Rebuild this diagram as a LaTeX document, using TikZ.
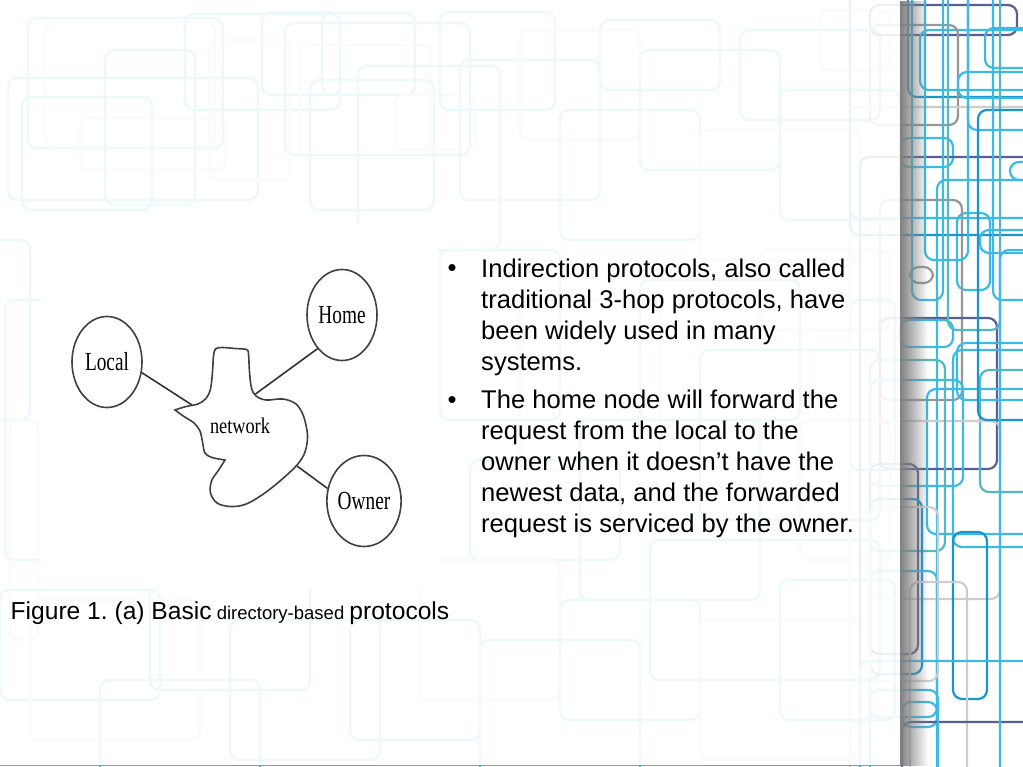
\documentclass[tikz,border=0pt]{standalone}
\usepackage{fontspec}
\setmainfont{Liberation Sans}
\newfontfamily\figfont{Liberation Serif}
\usepackage{graphicx}
\usetikzlibrary{shapes.geometric}
\usetikzlibrary{fadings}
\frenchspacing
\definecolor{sky}{RGB}{58,186,228}
\definecolor{skydeep}{RGB}{24,150,205}
\definecolor{slate}{RGB}{88,96,146}
\definecolor{tealline}{RGB}{84,184,190}
\definecolor{greylight}{RGB}{205,205,205}
\definecolor{greydark}{RGB}{150,150,155}
\newcommand{\tallfig}[1]{\scalebox{1}[1.35]{#1}}
\tikzfading[name=shadowfade, left color=transparent!0, right color=transparent!100]
\tikzset{
  bgline/.style={draw=#1, line width=2.2pt, rounded corners=9pt},
  peer/.style={ellipse, draw=black!75, line width=1.6pt, minimum width=70pt,
    minimum height=91pt, inner sep=0pt, font=\figfont\fontsize{19.3}{20}\selectfont},
  link/.style={draw=black!80, line width=1.6pt},
  netline/.style={draw=black!75, line width=1.6pt, fill=white},
  bullettext/.style={align=left, inner sep=0pt, anchor=north west,
    font=\fontsize{25.6}{31}\selectfont},
  bulletmark/.style={inner sep=0pt, anchor=base, font=\fontsize{25.6}{31}\selectfont}
}
\begin{document}
\begin{tikzpicture}[x=1pt,y=-1pt]
\useasboundingbox (0,0) rectangle (1023,767);
\clip (0,0) rectangle (1023,767);
\fill[white] (0,0) rectangle (1023,767);
% background pattern, page part
\foreach \xa/\ya/\xb/\yb/\col in {28/18/223/148/sky, 45/22/215/147/greylight, 8/78/258/200/sky,
  22/97/152/210/sky, 80/118/226/170/greylight, 105/50/195/205/sky, 185/14/340/110/sky,
  210/40/290/180/greylight, 262/12/340/95/sky, 285/23/470/155/sky, 300/45/430/158/greylight,
  322/13/415/95/sky, 310/80/434/210/sky, 358/66/500/250/sky, 395/95/475/150/greylight,
  440/12/555/110/sky, 460/60/600/200/sky, 520/30/640/140/greylight, 560/110/700/240/sky,
  600/20/720/90/sky, 640/50/780/170/sky, 700/130/860/260/greylight, 740/30/880/120/sky,
  780/90/900/220/sky, 820/10/890/70/greylight, -20/240/30/420/sky, 5/300/60/560/sky,
  10/420/38/640/greylight, 440/250/560/420/sky, 520/300/660/470/greylight, 640/280/800/420/sky,
  700/350/880/520/sky, 760/250/890/330/greylight, 470/460/620/560/sky, 580/420/760/600/sky,
  800/420/890/560/greylight, 850/300/895/470/sky, 0/590/160/700/sky, 30/600/200/740/greylight,
  150/580/310/690/sky, 230/620/380/760/sky, 350/620/480/740/sky, 420/560/560/700/greylight,
  480/640/640/790/sky, 560/600/700/720/sky, 650/540/880/680/sky, 700/620/860/760/greylight,
  780/580/895/720/sky, 100/680/260/790/sky}
  \draw[bgline=\col] (\xa,\ya) rectangle (\xb,\yb);
% background pattern, right strip
\foreach \xa/\ya/\xb/\yb/\col in {870/5/1017/35/slate, 908/-20/1040/97/skydeep, 920/30/1040/90/sky,
  870/25/958/125/greydark, 985/28/1040/68/sky, 958/72/1040/98/sky, 850/107/1040/900/greylight,
  900/138/953/167/sky, 860/157/1040/900/slate, 1010/162/1040/180/sky, 937/180/1040/900/sky,
  957/213/990/290/sky, 880/200/962/400/greydark, 850/218/1040/-50/sky, 850/235/1040/-50/skydeep,
  980/230/1040/253/sky, 910/267/933/283/greydark, 880/318/997/469/slate, 900/320/953/347/sky,
  957/343/1040/400/sky, 927/389/1040/534/sky, 870/380/963/486/sky, 980/370/1040/492/tealline,
  870/421/1000/599/greylight, 953/350/1040/547/sky, 953/532/987/699/skydeep,
  870/360/945/551/tealline, 870/464/918/654/slate, 870/499/922/674/skydeep, 870/571/937/717/sky,
  870/507/938/681/greylight, 910/582/967/800/greylight, 860/661/1040/900/sky,
  902/702/937/727/sky, 902/722/1040/900/slate, 870/690/938/900/sky, 912/-20/943/300/sky,
  925/-20/968/260/sky, 948/-20/1000/330/tealline, 968/-20/1040/130/sky, 978/110/1040/420/skydeep,
  993/-20/1040/300/sky, 1000/250/1040/800/sky}
  \draw[bgline=\col] (\xa,\ya) rectangle (\xb,\yb);
% page and its shadow
\fill[white, fill opacity=0.9] (0,0) rectangle (900,765);
\fill[black!50, path fading=shadowfade] (900,0) rectangle (928,766);
\draw[greydark, line width=1pt] (0,765.5) -- (900,765.5);
\fill[white] (41,223) rectangle (438,589);

% figure
\coordinate (netL) at (192,405);
\coordinate (netH) at (255.5,394);
\coordinate (netO) at (297,466);
\node[peer] (local) at (107,362) {\tallfig{Local}};
\node[peer] (home) at (342,315) {\tallfig{Home}};
\node[peer] (owner) at (364,501) {\tallfig{Owner}};
\draw[link] (local.-17) -- (netL);
\draw[link] (home.234) -- (netH);
\draw[link] (owner.161) -- (netO);
\draw[netline] plot[smooth, tension=0.55] coordinates {(175,410) (186,406.5) (198,404)
  (206,398.5) (210.5,389) (212.5,372) (213.5,356) (215.5,349) (222,347.5) (235,348.5)
  (246.5,349.5) (248.5,354) (249.5,372) (251.5,388) (256,396) (266,400) (283,399) (296,404)
  (303.5,416) (307.5,435) (305,452) (297,465) (280,481) (262,495) (245,504.5) (230,506.5)
  (217,503) (210.5,493) (211.5,481) (218,471) (225,460)}
  -- plot[smooth, tension=0.55] coordinates {(225,460) (212,457.5) (205,453) (202.5,442)
  (200,431) (194,423) (184,416.5) (175,410)} -- cycle;
\node[font=\figfont\fontsize{18.3}{20}\selectfont, inner sep=0pt] (net) at (240,426)
  {\scalebox{1}[1.22]{network}};
\node[anchor=base west, inner sep=0pt, font=\fontsize{24.6}{28}\selectfont] (caption) at (10.5,619)
  {Figure 1. (a) Basic{\fontsize{18.5}{22}\selectfont\ directory-based }protocols};

% bullets
\node[bulletmark] (b1) at (452,277) {•};
\node[bullettext] (p1) at (481,258.3) {Indirection protocols, also called\\
traditional 3-hop protocols, have\\ been widely used in many\\ systems.};
\node[bulletmark] (b2) at (452,408) {•};
\node[bullettext] (p2) at (481,389.3) {The home node will forward the\\
request from the local to the\\ owner when it doesn’t have the\\
newest data, and the forwarded\\ request is serviced by the owner.};
\end{tikzpicture}
\end{document}
